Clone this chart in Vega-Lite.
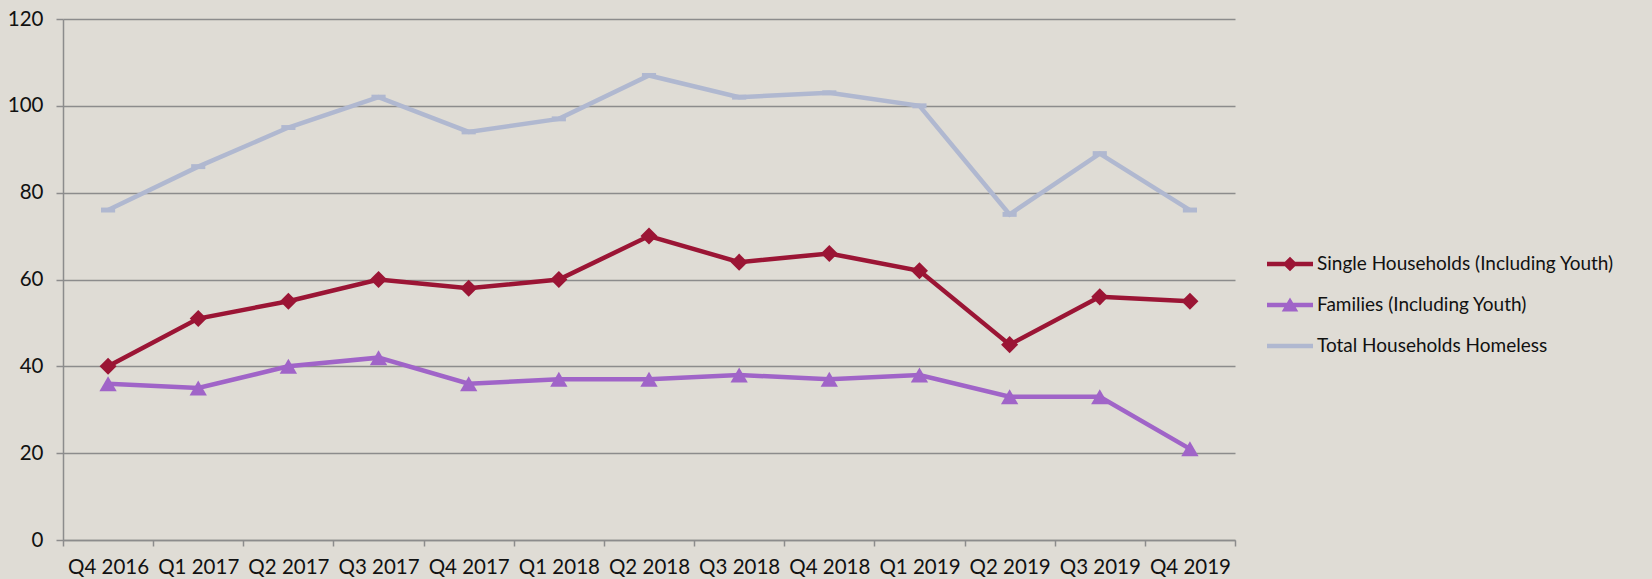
{
  "$schema": "https://vega.github.io/schema/vega-lite/v6.json",
  "width": 1172,
  "height": 521,
  "autosize": {"type": "none"},
  "padding": {"left": 63, "top": 19, "right": 417, "bottom": 39},
  "background": "#dfdcd5",
  "config": {
    "view": {"stroke": null},
    "font": "Lato",
    "axis": {"labelFont": "Lato", "labelColor": "#111111", "labelFontSize": 20.5, "domainColor": "#8c8c8c", "tickColor": "#8c8c8c", "gridColor": "#8c8c8c", "domainWidth": 1.5, "tickWidth": 1.5, "gridWidth": 1.5}
  },
  "data": {
    "values": [
      {"q": "Q4 2016", "s": "Single Households (Including Youth)", "v": 40},
      {"q": "Q1 2017", "s": "Single Households (Including Youth)", "v": 51},
      {"q": "Q2 2017", "s": "Single Households (Including Youth)", "v": 55},
      {"q": "Q3 2017", "s": "Single Households (Including Youth)", "v": 60},
      {"q": "Q4 2017", "s": "Single Households (Including Youth)", "v": 58},
      {"q": "Q1 2018", "s": "Single Households (Including Youth)", "v": 60},
      {"q": "Q2 2018", "s": "Single Households (Including Youth)", "v": 70},
      {"q": "Q3 2018", "s": "Single Households (Including Youth)", "v": 64},
      {"q": "Q4 2018", "s": "Single Households (Including Youth)", "v": 66},
      {"q": "Q1 2019", "s": "Single Households (Including Youth)", "v": 62},
      {"q": "Q2 2019", "s": "Single Households (Including Youth)", "v": 45},
      {"q": "Q3 2019", "s": "Single Households (Including Youth)", "v": 56},
      {"q": "Q4 2019", "s": "Single Households (Including Youth)", "v": 55},
      {"q": "Q4 2016", "s": "Families (Including Youth)", "v": 36},
      {"q": "Q1 2017", "s": "Families (Including Youth)", "v": 35},
      {"q": "Q2 2017", "s": "Families (Including Youth)", "v": 40},
      {"q": "Q3 2017", "s": "Families (Including Youth)", "v": 42},
      {"q": "Q4 2017", "s": "Families (Including Youth)", "v": 36},
      {"q": "Q1 2018", "s": "Families (Including Youth)", "v": 37},
      {"q": "Q2 2018", "s": "Families (Including Youth)", "v": 37},
      {"q": "Q3 2018", "s": "Families (Including Youth)", "v": 38},
      {"q": "Q4 2018", "s": "Families (Including Youth)", "v": 37},
      {"q": "Q1 2019", "s": "Families (Including Youth)", "v": 38},
      {"q": "Q2 2019", "s": "Families (Including Youth)", "v": 33},
      {"q": "Q3 2019", "s": "Families (Including Youth)", "v": 33},
      {"q": "Q4 2019", "s": "Families (Including Youth)", "v": 21},
      {"q": "Q4 2016", "s": "Total Households Homeless", "v": 76},
      {"q": "Q1 2017", "s": "Total Households Homeless", "v": 86},
      {"q": "Q2 2017", "s": "Total Households Homeless", "v": 95},
      {"q": "Q3 2017", "s": "Total Households Homeless", "v": 102},
      {"q": "Q4 2017", "s": "Total Households Homeless", "v": 94},
      {"q": "Q1 2018", "s": "Total Households Homeless", "v": 97},
      {"q": "Q2 2018", "s": "Total Households Homeless", "v": 107},
      {"q": "Q3 2018", "s": "Total Households Homeless", "v": 102},
      {"q": "Q4 2018", "s": "Total Households Homeless", "v": 103},
      {"q": "Q1 2019", "s": "Total Households Homeless", "v": 100},
      {"q": "Q2 2019", "s": "Total Households Homeless", "v": 75},
      {"q": "Q3 2019", "s": "Total Households Homeless", "v": 89},
      {"q": "Q4 2019", "s": "Total Households Homeless", "v": 76}
    ]
  },
  "encoding": {
    "x": {"field": "q", "type": "nominal", "sort": null, "title": null,
      "scale": {"paddingInner": 0, "paddingOuter": 0},
      "axis": {"labelAngle": 0, "tickBand": "extent", "tickSize": 6, "labelPadding": 11, "grid": false}},
    "y": {"field": "v", "type": "quantitative", "title": null,
      "scale": {"domain": [0, 120], "nice": false},
      "axis": {"values": [0, 20, 40, 60, 80, 100, 120], "tickSize": 7, "labelPadding": 13, "grid": true}},
    "color": {"field": "s", "type": "nominal", "sort": null, "title": null,
      "scale": {"domain": ["Single Households (Including Youth)", "Families (Including Youth)", "Total Households Homeless"], "range": ["#9b1535", "#a064c8", "#b0b8d0"]},
      "legend": {"orient": "none", "legendX": 1204, "legendY": 222, "symbolSize": 2116, "symbolOpacity": 1, "symbolStrokeWidth": 0, "labelFont": "Lato", "labelFontSize": 19, "labelColor": "#111111", "labelOffset": 4, "rowPadding": 8, "labelLimit": 400,
        "encode": {"symbols": {"update": {
          "size": {"value": 2116},
          "fill": {"scale": "color", "field": "value"},
          "fillOpacity": {"value": 1},
          "strokeWidth": {"value": 0},
          "shape": {"signal": "datum.value == 'Single Households (Including Youth)' ? 'M-1,-0.1H1V0.1H-1Z M0,-0.32L0.32,0L0,0.32L-0.32,0Z' : datum.value == 'Families (Including Youth)' ? 'M-1,-0.1H1V0.1H-1Z M0,-0.33L0.36,0.28H-0.36Z' : 'M-1,-0.1H1V0.1H-1Z'"}
        }}}}
    }
  },
  "layer": [
    {
      "mark": {"type": "line", "strokeWidth": 4.5}
    },
    {
      "transform": [{"filter": "datum.s == 'Single Households (Including Youth)'"}],
      "mark": {"type": "point", "filled": true, "opacity": 1, "shape": "diamond", "size": 290}
    },
    {
      "transform": [{"filter": "datum.s == 'Families (Including Youth)'"}],
      "mark": {"type": "point", "filled": true, "opacity": 1, "shape": "triangle-up", "size": 300}
    },
    {
      "transform": [{"filter": "datum.s == 'Total Households Homeless'"}],
      "mark": {"type": "point", "filled": true, "opacity": 1, "shape": "M-1,-0.35H1V0.35H-1Z", "size": 200}
    }
  ]
}
